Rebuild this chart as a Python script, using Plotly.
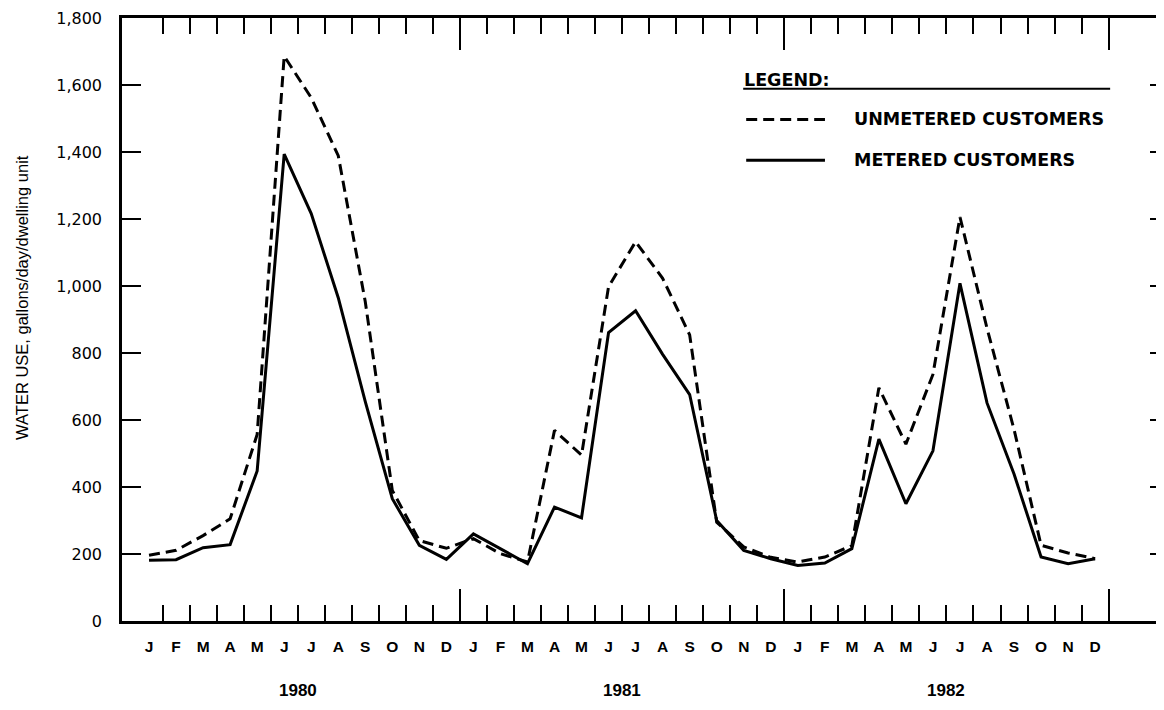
import plotly.graph_objects as go

months = ["J", "F", "M", "A", "M", "J", "J", "A", "S", "O", "N", "D"]
years = ["1980", "1981", "1982"]

unmetered = [196, 211, 255, 305, 557, 1686, 1562, 1389, 953, 390, 240, 217,
             246, 201, 176, 569, 495, 998, 1132, 1023, 854, 295, 221, 190,
             176, 191, 225, 696, 528, 736, 1206, 874, 572, 226, 203, 186]
metered = [181, 183, 219, 228, 448, 1394, 1216, 965, 655, 365, 226, 184,
           260, 216, 171, 340, 308, 861, 926, 796, 676, 300, 211, 186,
           166, 173, 216, 543, 350, 508, 1008, 651, 439, 191, 171, 186]

y_ticks = [0, 200, 400, 600, 800, 1000, 1200, 1400, 1600, 1800]

n = len(months) * len(years)
x_idx = list(range(n))
month_labels = months * len(years)
boundaries = [i + 0.5 for i in range(n)]
year_bounds = [11.5, 23.5, 35.5]
minor_bounds = [b for b in boundaries if b not in year_bounds]

SANS = "Liberation Sans, Arial, sans-serif"
DEJA = "DejaVu Sans, sans-serif"
XR = [-1, 37.4]
YR = [0, 1800]

# The page body has an 8px margin; figure is sized so the page shows no scrollbars.
OFF = 8

fig = go.Figure()
fig.add_trace(go.Scatter(x=x_idx, y=unmetered, mode="lines", name="UNMETERED CUSTOMERS",
                         line=dict(color="black", width=3, dash="11px,6px"), showlegend=False,
                         hoverinfo="skip"))
fig.add_trace(go.Scatter(x=x_idx, y=metered, mode="lines", name="METERED CUSTOMERS",
                         line=dict(color="black", width=3), showlegend=False, hoverinfo="skip"))
# empty helper traces so the overlay axes (tick marks only) are drawn
fig.add_trace(go.Scatter(x=[None], y=[None], xaxis="x2", yaxis="y", showlegend=False,
                         hoverinfo="skip"))
fig.add_trace(go.Scatter(x=[None], y=[None], xaxis="x", yaxis="y2", showlegend=False,
                         hoverinfo="skip"))

fig.update_layout(
    width=1156, height=694,
    margin=dict(l=122 - OFF, r=1, t=15 - OFF, b=694 - (621 - OFF)),
    paper_bgcolor="white", plot_bgcolor="white",
    font=dict(family=SANS, color="black"),
    xaxis=dict(range=XR, tickmode="array", tickvals=x_idx, ticktext=month_labels,
               ticks="", showgrid=False, zeroline=False, showline=True, mirror=True,
               linecolor="black", linewidth=2.5,
               tickfont=dict(size=15.5, family=SANS, weight="bold"), ticklabelstandoff=10),
    xaxis2=dict(range=XR, overlaying="x", anchor="y", side="bottom",
                tickmode="array", tickvals=year_bounds, ticks="inside", ticklen=32,
                tickwidth=1.8, tickcolor="black", mirror="ticks", showline=False,
                showticklabels=False, showgrid=False, zeroline=False,
                minor=dict(tickmode="array", tickvals=minor_bounds, ticks="inside",
                           ticklen=16, tickwidth=1.8, tickcolor="black", showgrid=False)),
    yaxis=dict(range=YR, tickmode="array", tickvals=y_ticks, ticks="inside", ticklen=19,
               tickwidth=2, tickcolor="black", tickformat=",d", showgrid=False,
               zeroline=False, showline=True, mirror=True, linecolor="black", linewidth=2.5,
               tickfont=dict(size=16, family=DEJA), ticklabelstandoff=14,
               ticklabeloverflow="allow"),
    yaxis2=dict(range=YR, overlaying="y", anchor="x", side="right",
                tickmode="array", tickvals=y_ticks[1:-1], ticks="inside", ticklen=10,
                tickwidth=2, tickcolor="black", showticklabels=False,
                showgrid=False, zeroline=False, showline=False),
)


def px(xp):
    return (xp - 122) / 1041.0


def py(yp):
    return (621 - yp) / 606.0


# y axis title
fig.add_annotation(x=px(21), y=py(296), xref="paper", yref="paper",
                   text="WATER USE, gallons/day/dwelling unit", textangle=-90,
                   showarrow=False, xanchor="center", yanchor="middle",
                   font=dict(size=16.5, family=SANS))

# year labels
for k, yr in enumerate(years):
    fig.add_annotation(x=5.5 + 12 * k, y=py(691), xref="x", yref="paper", text=yr,
                       showarrow=False, font=dict(size=17, family=SANS, weight="bold"),
                       xanchor="center", yanchor="middle")

# legend
fig.add_annotation(x=px(744), y=py(77), xref="paper", yref="paper", text="LEGEND:",
                   showarrow=False, xanchor="left", yanchor="middle",
                   font=dict(size=17.5, family=DEJA, weight="bold"))
fig.add_shape(type="line", xref="paper", yref="paper", x0=px(745), x1=px(1113),
              y0=py(86), y1=py(86), line=dict(color="black", width=2))
fig.add_shape(type="line", xref="paper", yref="paper", x0=px(748), x1=px(827),
              y0=py(117), y1=py(117), line=dict(color="black", width=3, dash="11px,6px"))
fig.add_shape(type="line", xref="paper", yref="paper", x0=px(748), x1=px(827),
              y0=py(158), y1=py(158), line=dict(color="black", width=3))
fig.add_annotation(x=px(854), y=py(117), xref="paper", yref="paper", text="UNMETERED CUSTOMERS",
                   showarrow=False, xanchor="left", yanchor="middle",
                   font=dict(size=17.5, family=DEJA, weight="bold"))
fig.add_annotation(x=px(854), y=py(158), xref="paper", yref="paper", text="METERED CUSTOMERS",
                   showarrow=False, xanchor="left", yanchor="middle",
                   font=dict(size=17.5, family=DEJA, weight="bold"))

fig.write_html("out.html")
